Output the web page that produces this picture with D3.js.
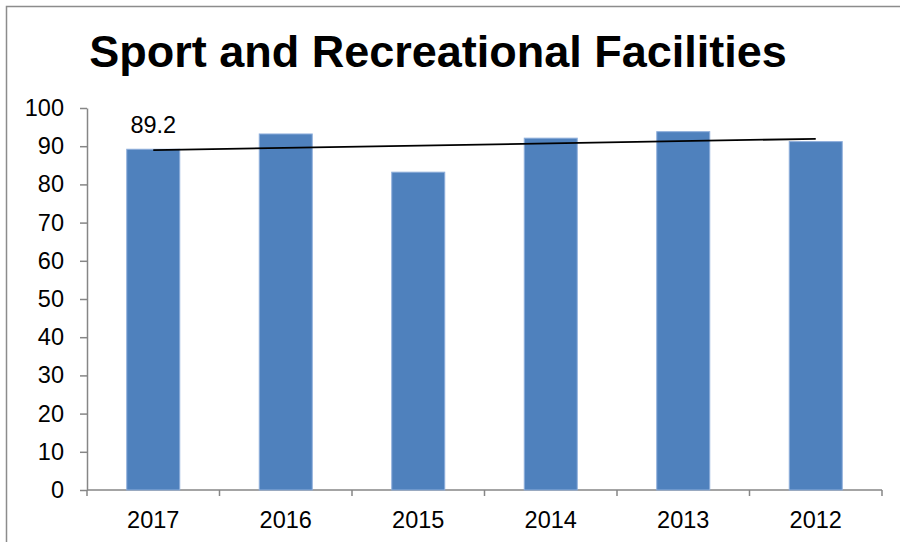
<!DOCTYPE html>
<html lang="en">

<head>
  <meta charset="UTF-8">
  <title>Sport and Recreational Facilities</title>
  <script src="https://d3js.org/d3.v7.min.js"></script>
  <style>
    body {
      margin: 0;
      background: #fff;
      font-family: "Liberation Sans", Arial, sans-serif;
    }

    .bar {
      fill: #4f81bd;
      stroke: #8eaedb;
      stroke-width: 1;
    }

    .axis path,
    .axis line {
      stroke: #868686;
      stroke-width: 1.5;
    }

    .axis text {
      font-family: "Liberation Sans", Arial, sans-serif;
      font-size: 23.5px;
      fill: #000;
    }

    .title {
      font-size: 45px;
      font-weight: bold;
    }

    .label {
      font-size: 23.5px;
    }
  </style>
</head>

<body>
  <div id="chart"></div>

  <script>
    const years = ["2017", "2016", "2015", "2014", "2013", "2012"];
    const values = [89.2, 93.2, 83.2, 92.1, 93.8, 91.2];
    const yTicks = [0, 10, 20, 30, 40, 50, 60, 70, 80, 90, 100];
    const labelled = ["2017"];

    const data = years.map((y, i) => ({ year: y, value: values[i] }));

    const W = 900, H = 542;
    const margin = { top: 108, right: 18, bottom: 52, left: 87 };
    const width = W - margin.left - margin.right;
    const height = H - margin.top - margin.bottom;

    const svg = d3.select("#chart").append("svg")
      .attr("width", W)
      .attr("height", H);

    // outer chart border (runs off right and bottom)
    svg.append("rect")
      .attr("x", 6.5)
      .attr("y", 6.5)
      .attr("width", W)
      .attr("height", H)
      .attr("fill", "none")
      .attr("stroke", "#8c8c8c")
      .attr("stroke-width", 1.5);

    svg.append("text")
      .attr("class", "title")
      .attr("x", 438)
      .attr("y", 67)
      .attr("text-anchor", "middle")
      .text("Sport and Recreational Facilities");

    const g = svg.append("g")
      .attr("transform", `translate(${margin.left},${margin.top})`);

    const x = d3.scaleBand()
      .domain(years)
      .range([0, width])
      .paddingInner(0.6)
      .paddingOuter(0.3);

    const y = d3.scaleLinear()
      .domain([0, 100])
      .range([height, 0]);

    // x axis: ticks at category boundaries
    const step = x.step();
    const xa = g.append("g")
      .attr("class", "axis")
      .attr("transform", `translate(0,${height})`);
    xa.append("line")
      .attr("x1", 0).attr("x2", width)
      .attr("y1", 0).attr("y2", 0);
    xa.selectAll(".tk")
      .data(d3.range(years.length + 1))
      .enter().append("line")
      .attr("class", "tk")
      .attr("x1", i => i * step).attr("x2", i => i * step)
      .attr("y1", 0).attr("y2", 6);
    xa.selectAll(".lbl")
      .data(years)
      .enter().append("text")
      .attr("x", d => x(d) + x.bandwidth() / 2)
      .attr("y", 38)
      .attr("text-anchor", "middle")
      .text(d => d);

    g.append("g")
      .attr("class", "axis")
      .call(d3.axisLeft(y).tickValues(yTicks).tickSize(7).tickSizeOuter(0).tickPadding(16));

    g.selectAll(".bar")
      .data(data)
      .enter().append("rect")
      .attr("class", "bar")
      .attr("x", d => x(d.year))
      .attr("y", d => y(d.value))
      .attr("width", x.bandwidth())
      .attr("height", d => height - y(d.value));

    // linear trendline
    const xs = d3.range(values.length);
    const mx = d3.mean(xs), my = d3.mean(values);
    const slope = d3.sum(xs, i => (i - mx) * (values[i] - my)) / d3.sum(xs, i => (i - mx) ** 2);
    const icpt = my - slope * mx;
    const cx = i => x(years[i]) + x.bandwidth() / 2;

    g.append("line")
      .attr("x1", cx(0))
      .attr("y1", y(icpt))
      .attr("x2", cx(values.length - 1))
      .attr("y2", y(icpt + slope * (values.length - 1)))
      .attr("stroke", "#000")
      .attr("stroke-width", 1.8);

    g.selectAll(".label")
      .data(data.filter(d => labelled.includes(d.year)))
      .enter().append("text")
      .attr("class", "label")
      .attr("x", d => x(d.year) + x.bandwidth() / 2)
      .attr("y", d => y(d.value) - 16)
      .attr("text-anchor", "middle")
      .text(d => d.value);
  </script>
</body>

</html>
